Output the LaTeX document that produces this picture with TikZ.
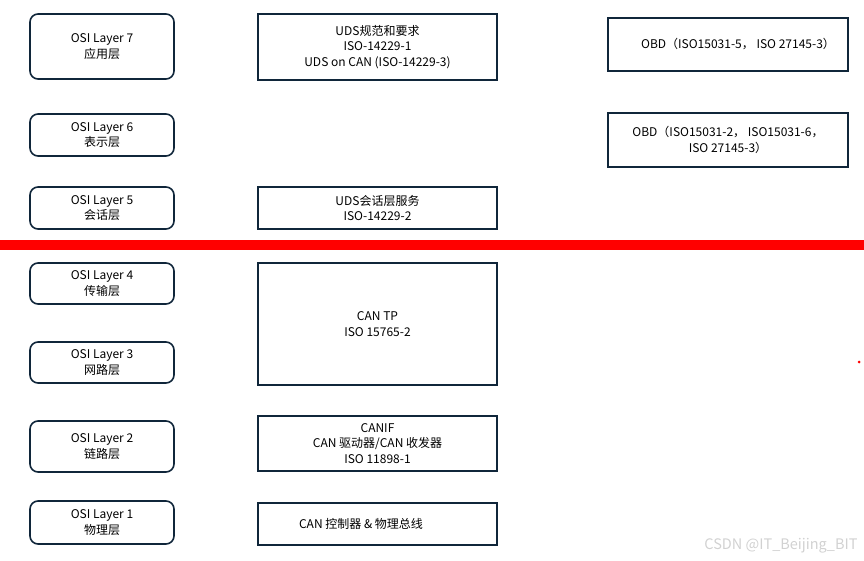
\documentclass[tikz,border=0pt]{standalone}
\usepackage{fontspec}
\setmainfont{Noto Sans CJK SC}
\usetikzlibrary{positioning}

\definecolor{boxline}{HTML}{10263A}
\definecolor{sepred}{HTML}{FF0000}

\begin{document}
\begin{tikzpicture}[
    x=1pt, y=-1pt,
    font=\fontsize{12}{15.5}\selectfont,
    layerbox/.style={
        draw=boxline,
        line width=1.6pt,
        rounded corners=8pt,
        align=center,
        minimum width=144pt,
        inner sep=0pt
    },
    specbox/.style={
        draw=boxline,
        line width=1.6pt,
        align=center,
        minimum width=239pt,
        inner sep=0pt
    },
    obdbox/.style={
        draw=boxline,
        line width=1.6pt,
        align=center,
        minimum width=240pt,
        inner sep=0pt
    }
]
    \useasboundingbox (0,0) rectangle (864,561);

    % OSI layers
    \node[layerbox, minimum height=65pt] (l7) at (102,46.5) {OSI Layer 7\\应用层};
    \node[layerbox, minimum height=42pt] (l6) at (102,135) {OSI Layer 6\\表示层};
    \node[layerbox, minimum height=42pt] (l5) at (102,208) {OSI Layer 5\\会话层};
    \node[layerbox, minimum height=41pt] (l4) at (102,283.5) {OSI Layer 4\\传输层};
    \node[layerbox, minimum height=41pt] (l3) at (102,362.5) {OSI Layer 3\\网路层};
    \node[layerbox, minimum height=51pt] (l2) at (102,446.5) {OSI Layer 2\\链路层};
    \node[layerbox, minimum height=43pt] (l1) at (102,522.5) {OSI Layer 1\\物理层};

    % UDS / CAN stack
    \node[specbox, minimum height=66pt] (uds) at (377.5,47) {UDS规范和要求\\ISO-14229-1\\UDS on CAN (ISO-14229-3)};
    \node[specbox, minimum height=42pt] (session) at (377.5,208) {UDS会话层服务\\ISO-14229-2};
    \node[specbox, minimum height=122pt] (cantp) at (377.5,324) {CAN TP\\ISO 15765-2};
    \node[specbox, minimum height=55pt] (canif) at (377.5,443.5) {CANIF\\CAN 驱动器/CAN 收发器\\ISO 11898-1};
    \node[specbox, minimum height=42pt] (canbus) at (377.5,524) {\hspace*{-33pt}CAN 控制器 \& 物理总线};

    % OBD
    \node[obdbox, minimum height=53pt] (obd1) at (728,44.5) {\hspace*{20pt}OBD（ISO15031-5，\ ISO 27145-3）};
    \node[obdbox, minimum height=54pt] (obd2) at (728,140) {OBD（ISO15031-2，\ ISO15031-6，\\ISO 27145-3）};

    % separator between upper and lower layers
    \coordinate (sepL) at (0,245);
    \coordinate (sepR) at (864,245);
    \draw[sepred, line width=10pt] (sepL) -- (sepR);

    \fill[sepred] (859,362) circle (1.5pt);

    \node[text=black!18, font=\fontsize{14.5}{16}\selectfont, anchor=east] (mark) at (861,546) {CSDN @IT\_Beijing\_BIT};
\end{tikzpicture}
\end{document}
